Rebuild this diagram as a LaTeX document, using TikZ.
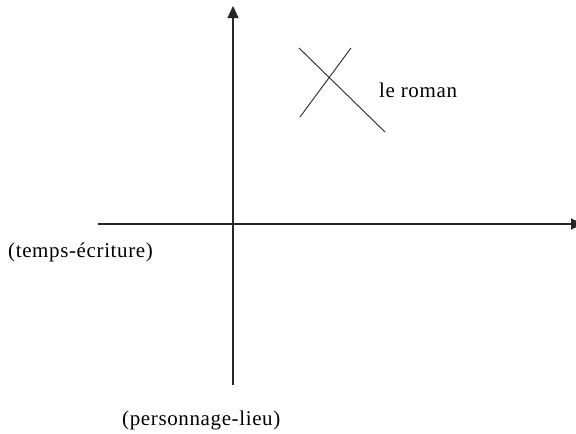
\documentclass[tikz,border=0pt]{standalone}
\usepackage{fontspec}
\setmainfont{Liberation Serif}
\newfontfamily\lblfont[LetterSpace=3]{Liberation Serif}
\usetikzlibrary{arrows.meta}
\tikzset{
  axis/.style={line width=1.1pt, draw=black!85, -{Triangle[length=12pt,width=11pt]}},
  mark line/.style={line width=0.9pt, draw=black!85},
  lbl/.style={inner sep=0pt, anchor=base west, font=\lblfont\fontsize{21}{24}\selectfont}
}
\begin{document}
\begin{tikzpicture}[x=1pt,y=-1pt]
\useasboundingbox (0,0) rectangle (576,434);
\coordinate (vb) at (233,385);
\coordinate (vt) at (233,6);
\coordinate (hl) at (98,224);
\coordinate (hr) at (583,224);
\draw[axis] (vb) -- (vt);
\draw[axis] (hl) -- (hr);
\coordinate (a1) at (299,48);
\coordinate (a2) at (385,132);
\coordinate (b1) at (351,48);
\coordinate (b2) at (300,117);
\draw[mark line] (a1) -- (a2);
\draw[mark line] (b1) -- (b2);
\node[lbl] (roman) at (379,97) {le roman};
\node[lbl] (temps) at (8,257) {(temps-écriture)};
\node[lbl] (perso) at (122,425) {(personnage-lieu)};
\end{tikzpicture}
\end{document}
